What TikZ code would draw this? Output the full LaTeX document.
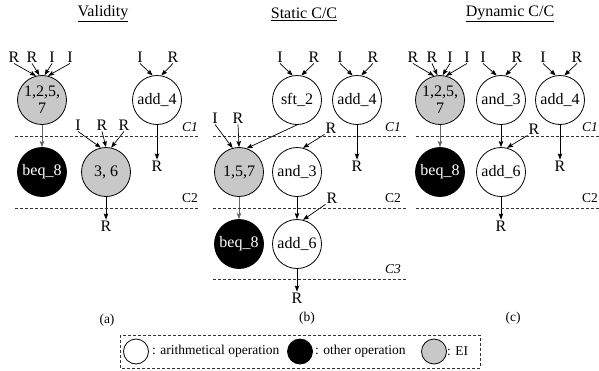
\documentclass[tikz,border=0pt]{standalone}
\usepackage{fontspec}
\setmainfont{Liberation Serif}
\usetikzlibrary{arrows.meta}
\definecolor{eigray}{RGB}{200,200,200}
\newcommand{\bigfs}{\fontsize{16}{17}\selectfont}
\newcommand{\smallfs}{\fontsize{13.5}{15}\selectfont}

\begin{document}
\begin{tikzpicture}[x=1pt,y=-1pt,
  op/.style={circle,draw,line width=0.8pt,minimum size=49pt,inner sep=0pt,font=\bigfs,align=center},
  arith/.style={op,fill=white},
  other/.style={op,fill=black,text=white},
  ei/.style={op,fill=eigray},
  io/.style={font=\bigfs,inner sep=1pt},
  ttl/.style={font=\bigfs},
  capt/.style={font=\smallfs},
  clab/.style={font=\smallfs,inner sep=0pt},
  cut/.style={dash pattern=on 3pt off 2pt,line width=0.8pt,black!80},
  arr/.style={-{Stealth[length=6pt,width=4.5pt,inset=1pt]},line width=0.7pt},
  garr/.style={arr,black!60},
  lgop/.style={circle,draw,line width=0.8pt,minimum size=25pt,inner sep=0pt},
  lgtxt/.style={font=\smallfs,anchor=west,inner sep=0pt},
]
\useasboundingbox (0,0) rectangle (599,370);

% ---------------- (a) Validity ----------------
\node[ttl] (ta) at (103,14) {\underline{Validity}};
\node[ei]    (a125) at (42,100)  {1,2,5,\\7};
\node[arith] (a4)   at (157,100) {add\_4};
\node[other] (a8)   at (42,172)  {beq\_8};
\node[ei]    (a36)  at (106,172) {3, 6};

\node[io] (ai1) at (14,57) {R};
\node[io] (ai2) at (32,57) {R};
\node[io] (ai3) at (52,57) {I};
\node[io] (ai4) at (70,57) {I};
\node[io] (ai5) at (140,57) {I};
\node[io] (ai6) at (173,57) {R};
\node[io] (ai7) at (78,125) {I};
\node[io] (ai8) at (102,125) {R};
\node[io] (ai9) at (124,125) {R};
\node[io] (ao1) at (157,166) {R};
\node[io] (ao2) at (106,226) {R};

\draw[arr] (ai1.south) -- (a125.104);
\draw[arr] (ai2.south) -- (a125.96);
\draw[arr] (ai3.south) -- (a125.84);
\draw[arr] (ai4.south) -- (a125.76);
\draw[arr] (ai5.south) -- (a4.100);
\draw[arr] (ai6.south) -- (a4.80);
\draw[arr] (ai7.south) -- (a36.102);
\draw[arr] (ai8.south) -- (a36.90);
\draw[arr] (ai9.south) -- (a36.78);
\draw[garr] (a125.south) -- (a8.north);
\draw[arr] (a4.south) -- (ao1.north);
\draw[arr] (a36.south) -- (ao2.north);

\coordinate (ac1l) at (15,136);  \coordinate (ac1r) at (198,136);
\coordinate (ac2l) at (15,208);  \coordinate (ac2r) at (198,208);
\draw[cut] (ac1l) -- (ac1r);
\draw[cut] (ac2l) -- (ac2r);
\node[clab] (acl1) at (190,127) {\textit{C1}};
\node[clab] (acl2) at (190,198) {C2};
\node[capt] (capa) at (107,320) {(a)};

% ---------------- (b) Static C/C ----------------
\node[ttl] (tb) at (304,14) {\underline{Static C/C}};
\node[arith] (b2)   at (297,100) {sft\_2};
\node[arith] (b4)   at (357,100) {add\_4};
\node[ei]    (b157) at (239,172) {1,5,7};
\node[arith] (b3)   at (297,172) {and\_3};
\node[other] (b8)   at (239,244) {beq\_8};
\node[arith] (b6)   at (297,244) {add\_6};

\node[io] (bi1) at (280,57) {I};
\node[io] (bi2) at (314,57) {R};
\node[io] (bi3) at (340,57) {I};
\node[io] (bi4) at (373,57) {R};
\node[io] (bi5) at (215,118) {I};
\node[io] (bi6) at (238,118) {R};
\node[io] (bi7) at (331,128) {R};
\node[io] (bi8) at (332,198) {R};
\node[io] (bo1) at (357,166) {R};
\node[io] (bo2) at (297,298) {R};

\draw[arr] (bi1.south) -- (b2.100);
\draw[arr] (bi2.south) -- (b2.80);
\draw[arr] (bi3.south) -- (b4.100);
\draw[arr] (bi4.south) -- (b4.80);
\draw[arr] (bi5.south) -- (b157.105);
\draw[arr] (bi6.south) -- (b157.90);
\draw[arr] (b2.south) -- (b157.72);
\draw[arr] (bi7.south west) -- (b3.76);
\draw[arr] (bi8.south west) -- (b6.76);
\draw[arr] (b4.south) -- (bo1.north);
\draw[garr] (b157.south) -- (b8.north);
\draw[arr] (b3.south) -- (b6.north);
\draw[arr] (b6.south) -- (bo2.north);

\coordinate (bc1l) at (213,136);  \coordinate (bc1r) at (406,136);
\coordinate (bc2l) at (213,208);  \coordinate (bc2r) at (406,208);
\coordinate (bc3l) at (213,279);  \coordinate (bc3r) at (406,279);
\draw[cut] (bc1l) -- (bc1r);
\draw[cut] (bc2l) -- (bc2r);
\draw[cut] (bc3l) -- (bc3r);
\node[clab] (bcl1) at (393,127) {\textit{C1}};
\node[clab] (bcl2) at (393,198) {C2};
\node[clab] (bcl3) at (393,269) {\textit{C3}};
\node[capt] (capb) at (307,318) {(b)};

% ---------------- (c) Dynamic C/C ----------------
\node[ttl] (tc) at (510,14) {\underline{Dynamic C/C}};
\node[ei]    (c125) at (440,100) {1,2,5,\\7};
\node[arith] (c3)   at (501,100) {and\_3};
\node[arith] (c4)   at (560,100) {add\_4};
\node[other] (c8)   at (440,172) {beq\_8};
\node[arith] (c6)   at (501,172) {add\_6};

\node[io] (ci1) at (413,57) {R};
\node[io] (ci2) at (432,57) {R};
\node[io] (ci3) at (450,57) {I};
\node[io] (ci4) at (467,57) {I};
\node[io] (ci5) at (483,57) {I};
\node[io] (ci6) at (517,57) {R};
\node[io] (ci7) at (543,57) {I};
\node[io] (ci8) at (577,57) {R};
\node[io] (ci9) at (534,129) {R};
\node[io] (co1) at (560,166) {R};
\node[io] (co2) at (501,226) {R};

\draw[arr] (ci1.south) -- (c125.104);
\draw[arr] (ci2.south) -- (c125.96);
\draw[arr] (ci3.south) -- (c125.84);
\draw[arr] (ci4.south) -- (c125.76);
\draw[arr] (ci5.south) -- (c3.100);
\draw[arr] (ci6.south) -- (c3.80);
\draw[arr] (ci7.south) -- (c4.100);
\draw[arr] (ci8.south) -- (c4.80);
\draw[arr] (ci9.south west) -- (c6.76);
\draw[garr] (c125.south) -- (c8.north);
\draw[arr] (c3.south) -- (c6.north);
\draw[arr] (c4.south) -- (co1.north);
\draw[arr] (c6.south) -- (co2.north);

\coordinate (cc1l) at (416,136);  \coordinate (cc1r) at (600,136);
\coordinate (cc2l) at (416,208);  \coordinate (cc2r) at (600,208);
\draw[cut] (cc1l) -- (cc1r);
\draw[cut] (cc2l) -- (cc2r);
\node[clab,anchor=east] (ccl1) at (598,127) {\textit{C1}};
\node[clab,anchor=east] (ccl2) at (598,198) {C2};
\node[capt] (capc) at (513,318) {(c)};

% ---------------- legend ----------------
\coordinate (lg1) at (120,335);
\coordinate (lg2) at (480,368);
\draw[cut] (lg1) rectangle (lg2);
\node[lgop,fill=white] (lw) at (136,351.5) {};
\node[lgtxt] (lwt) at (152,351.5) {: arithmetical operation};
\node[lgop,fill=black] (lb) at (300,351.5) {};
\node[lgtxt] (lbt) at (315,351.5) {: other operation};
\node[lgop,fill=eigray] (lg) at (434,351.5) {};
\node[lgtxt] (lgt) at (447,351.5) {: EI};
\end{tikzpicture}
\end{document}
